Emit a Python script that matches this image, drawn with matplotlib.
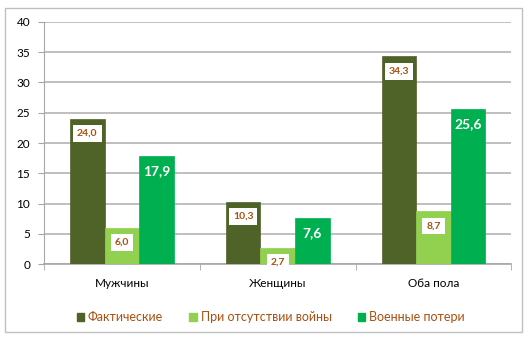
import matplotlib.pyplot as plt
import numpy as np
from matplotlib.patches import Rectangle, Patch

plt.rcParams['font.family'] = ['Lato', 'DejaVu Sans']

# данные: доли по полу, %
categories = ['Мужчины', 'Женщины', 'Оба пола']
series_names = ['Фактические', 'При отсутствии войны', 'Военные потери']
actual = [24.0, 10.3, 34.3]
no_war = [6.0, 2.7, 8.7]
war_losses = [17.9, 7.6, 25.6]
y_ticks = [0, 5, 10, 15, 20, 25, 30, 35, 40]

COLORS = ['#4f6228', '#92d050', '#00b050']
LABEL_BROWN = '#a8500f'

fig = plt.figure(figsize=(5.31, 3.43), dpi=100)
ax = fig.add_axes([0.083, 0.230, 0.880, 0.706])

x = np.arange(len(categories))
width = 0.222
series = [actual, no_war, war_losses]
for i, (vals, color, name) in enumerate(zip(series, COLORS, series_names)):
    pos = x + (i - 1) * width
    bars = ax.bar(pos, vals, width, color=color, edgecolor=color, linewidth=0.5, zorder=3)
    for bar, v in zip(bars, vals):
        txt = f'{v:.1f}'.replace('.', ',')
        cx = bar.get_x() + bar.get_width() / 2
        if i < 2:
            ax.annotate(txt, (cx, v), xytext=(0, -10.5), textcoords='offset points',
                        ha='center', va='center', fontsize=7.5, fontweight='bold',
                        color=LABEL_BROWN, zorder=5,
                        bbox=dict(boxstyle='square,pad=0.38', fc='white', ec='none'))
        else:
            ax.annotate(txt, (cx, v), xytext=(0, -11), textcoords='offset points',
                        ha='center', va='center', fontsize=10, fontweight='bold',
                        color='white', zorder=5)

ax.set_xlim(-0.5, 2.5)
ax.set_ylim(0, 40)
ax.set_yticks(y_ticks)
ax.tick_params(axis='y', labelsize=8.5, length=4, color='#a6a6a6', pad=6)
ax.grid(axis='y', color='#bfbfbf', linewidth=1.4, zorder=0)
ax.set_axisbelow(True)

ax.set_xticks(x)
ax.set_xticklabels(categories, fontsize=8.5)
ax.tick_params(axis='x', length=0, pad=10)
ax.set_xticks([-0.5, 0.5, 1.5, 2.5], minor=True)
ax.tick_params(axis='x', which='minor', length=4, color='#a6a6a6')

for s in ['top', 'right']:
    ax.spines[s].set_visible(False)
ax.spines['left'].set_color('#a6a6a6')
ax.spines['bottom'].set_color('#a6a6a6')
ax.spines['bottom'].set_linewidth(1.2)

handles = [Patch(facecolor=c, edgecolor=c) for c in COLORS]
leg = fig.legend(handles, series_names, loc='center', bbox_to_anchor=(0.51, 0.075),
                 ncol=3, frameon=False, fontsize=9, handlelength=0.6, handleheight=0.6,
                 handletextpad=0.3, columnspacing=2.1)
for t in leg.get_texts():
    t.set_color(LABEL_BROWN)

# рамка вокруг всей диаграммы
fig.patches.append(Rectangle((5 / 531, 1 - 332 / 343), 517 / 531, 324 / 343,
                             transform=fig.transFigure, fill=False,
                             edgecolor='#bfbfbf', linewidth=1.0))

fig.savefig('out.png', dpi=100, facecolor='white')
